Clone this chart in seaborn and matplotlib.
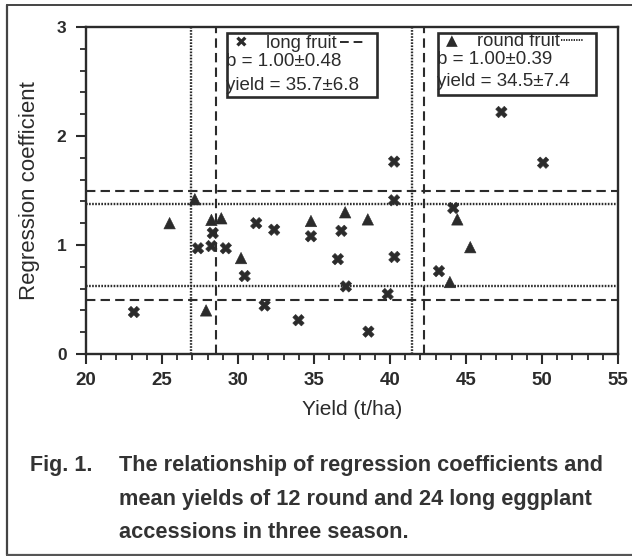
import numpy as np
import pandas as pd
import matplotlib
matplotlib.use("Agg")
import matplotlib.pyplot as plt
from matplotlib.lines import Line2D
from matplotlib.patches import Rectangle
from matplotlib.ticker import MultipleLocator
import seaborn as sns

# ---- data ----
long_yield = [23.15, 27.37, 28.25, 28.34, 29.2, 30.44, 31.2, 31.75, 32.38, 33.98, 34.8, 36.57,
              36.8, 37.1, 38.58, 39.85, 40.27, 40.29, 40.27, 43.22, 44.16, 47.33, 50.07]
long_b = [0.385, 0.97, 0.99, 1.11, 0.97, 0.715, 1.20, 0.445, 1.14, 0.31, 1.08, 0.87,
          1.13, 0.62, 0.205, 0.55, 1.41, 0.89, 1.765, 0.76, 1.34, 2.22, 1.755]
round_yield = [25.5, 27.16, 27.9, 28.25, 28.9, 30.2, 34.8, 37.05, 38.54, 43.94, 44.43, 45.28]
round_b = [1.20, 1.42, 0.40, 1.23, 1.245, 0.88, 1.22, 1.30, 1.235, 0.66, 1.235, 0.98]

# mean +/- sd limits as drawn
long_yield_limits = [28.55, 42.25]
long_b_limits = [0.50, 1.495]
round_yield_limits = [26.9, 41.43]
round_b_limits = [0.624, 1.373]

x_ticks = [20, 25, 30, 35, 40, 45, 50, 55]
y_ticks = [0, 1, 2, 3]

long_text = ["long fruit", "b = 1.00\u00b10.48", "yield = 35.7\u00b16.8"]
round_text = ["round fruit", "b = 1.00\u00b10.39", "yield = 34.5\u00b17.4"]
caption_lines = ["The relationship of regression coefficients and",
                 "mean yields of 12 round and 24 long eggplant",
                 "accessions in three season."]

df = pd.DataFrame({
    "yield": long_yield + round_yield,
    "b": long_b + round_b,
    "type": ["long"] * len(long_yield) + ["round"] * len(round_yield),
})

sns.set_style("ticks")
plt.rcParams["font.family"] = ["Liberation Sans", "DejaVu Sans"]

W, H = 632, 556
fig = plt.figure(figsize=(W / 100, H / 100), dpi=100)
L, R, T, B = 86, 618, 27, 354
ax = fig.add_axes([L / W, 1 - B / H, (R - L) / W, (B - T) / H])

ink = "#2b2b2b"
sns.scatterplot(data=df, x="yield", y="b", style="type",
                markers={"long": "X", "round": "^"},
                color=ink, edgecolor=ink, linewidth=0.4, s=68, legend=False, ax=ax, zorder=5)

dash = (0, (4.5, 2.5))
dot = (0, (0.7, 0.6))
for v in long_yield_limits:
    ax.axvline(v, color=ink, lw=1.5, ls=dash, zorder=2)
for v in long_b_limits:
    ax.axhline(v, color=ink, lw=1.5, ls=dash, zorder=2)
for v in round_yield_limits:
    ax.axvline(v, color=ink, lw=1.7, ls=dot, zorder=2)
for v in round_b_limits:
    ax.axhline(v, color=ink, lw=1.7, ls=dot, zorder=2)

ax.set_xlim(20, 55)
ax.set_ylim(0, 3)
ax.set_xticks(x_ticks)
ax.set_yticks(y_ticks)
ax.set_xticklabels([str(t) for t in x_ticks], fontsize=13.5, fontweight="bold")
ax.set_yticklabels([str(t) for t in y_ticks], fontsize=12.5, fontweight="bold")
ax.xaxis.set_minor_locator(MultipleLocator(1))
ax.yaxis.set_minor_locator(MultipleLocator(0.2))
ax.tick_params(which="major", length=7, width=1.5, color=ink, labelcolor=ink)
ax.tick_params(which="minor", length=4.5, width=1.3, color=ink)
ax.tick_params(axis="x", which="major", pad=6)
ax.tick_params(axis="y", which="major", pad=7)
for sp in ax.spines.values():
    sp.set_visible(True)
    sp.set_linewidth(1.7)
    sp.set_color(ink)

ax.set_xlabel("Yield (t/ha)", fontsize=15, color=ink, labelpad=8)
ax.set_ylabel("Regression coefficient", fontsize=16, color=ink, labelpad=12)

# ---- legend boxes ----
def px2ax(px, py):
    return (px - L) / (R - L), (B - py) / (B - T)

def legend_box(x0, y0, x1, y1, marker, lines, name_x, line_y, sample, ls, mk_x):
    ax0, ay1 = px2ax(x0, y0)
    ax1, ay0 = px2ax(x1, y1)
    ax.add_patch(Rectangle((ax0, ay0), ax1 - ax0, ay1 - ay0, transform=ax.transAxes,
                           fill=True, facecolor="white", edgecolor=ink, lw=1.9, zorder=6))
    mx, my = px2ax(mk_x, line_y[0])
    ax.text(mx, my, marker, transform=ax.transAxes, fontsize=11, color=ink,
            ha="center", va="center", family=["DejaVu Sans"], zorder=7)
    nx, _ = px2ax(name_x, line_y[0])
    ax.text(nx, my, lines[0], transform=ax.transAxes, fontsize=13.2, color=ink,
            ha="left", va="center", zorder=7)
    sx0, sy = px2ax(sample[0], line_y[0] - 1)
    sx1, _ = px2ax(sample[1], line_y[0])
    ax.add_line(Line2D([sx0, sx1], [sy, sy], transform=ax.transAxes, color=ink,
                       lw=1.4, ls=ls, zorder=7))
    for txt, yy in zip(lines[1:], line_y[1:]):
        tx, ty = px2ax(x0 - 1, yy)
        ax.text(tx, ty, txt, transform=ax.transAxes, fontsize=13.5, color=ink,
                ha="left", va="center", zorder=7)

legend_box(227, 33, 377, 97, "\u2716", long_text, 266, [43, 62, 85], (340, 366), dash, 241)
legend_box(438, 33, 596, 95, "\u25b2", round_text, 477, [41, 60, 81], (561, 583), dot, 452)

# ---- caption ----
cap_y = [465, 500, 532]
fig.text(30 / W, 1 - cap_y[0] / H, "Fig. 1.", fontsize=15.5, fontweight="bold",
         color="#333333", ha="left", va="center")
for line, yy in zip(caption_lines, cap_y):
    fig.text(119 / W, 1 - yy / H, line, fontsize=15.7, fontweight="bold",
             color="#333333", ha="left", va="center")

# ---- outer frame ----
fx0, fy0, fy1 = 7 / W, 1 - 5 / H, 1 - 555 / H
fig.add_artist(Line2D([fx0, fx0], [fy0, fy1], transform=fig.transFigure, color="#444444", lw=1.6))
fig.add_artist(Line2D([fx0, 1.0], [fy0, fy0], transform=fig.transFigure, color="#444444", lw=1.4))
fig.add_artist(Line2D([fx0, 1.0], [fy1, fy1], transform=fig.transFigure, color="#555555", lw=1.6))

fig.savefig("out.png", dpi=100)
